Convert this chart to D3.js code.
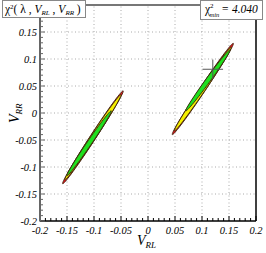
<!DOCTYPE html>
<html>
<head>
<meta charset="utf-8">
<script src="https://cdn.jsdelivr.net/npm/d3@7"></script>
<style>
  body { margin: 0; background: #fff; }
  svg { display: block; }
  text { font-family: "Liberation Serif", "DejaVu Serif", serif; }
</style>
</head>
<body>
<div id="chart"></div>
<script>
(() => {
  // axis ticks
  const xTicks = [-0.2, -0.15, -0.1, -0.05, 0, 0.05, 0.1, 0.15, 0.2];
  const yTicks = [-0.2, -0.15, -0.1, -0.05, 0, 0.05, 0.1, 0.15];
  const tickLabels = ["-0.2", "-0.15", "-0.1", "-0.05", "0", "0.05", "0.1", "0.15", "0.2"];

  // contour regions: tips of the major axis (V_RL, V_RR) and half width
  const contourLevels = ["red", "yellow", "green"];
  const contourFill = { red: "#e8141c", yellow: "#f5f000", green: "#1ee01e" };
  const leftContours = [
    { level: "red",    p1: [-0.158, -0.131], p2: [-0.046, 0.041], w: 0.0053 },
    { level: "yellow", p1: [-0.154, -0.124], p2: [-0.050, 0.034], w: 0.0049 },
    { level: "green",  p1: [-0.150, -0.116], p2: [-0.068, 0.004], w: 0.0042 },
  ];
  const rightContours = [
    { level: "red",    p1: [0.045, -0.040], p2: [0.158, 0.129], w: 0.0053 },
    { level: "yellow", p1: [0.049, -0.033], p2: [0.154, 0.122], w: 0.0049 },
    { level: "green",  p1: [0.070, 0.004],  p2: [0.152, 0.117], w: 0.0042 },
  ];
  // best fit marker
  const bestFit = { x: 0.120, y: 0.081, dx: 0.019, dy: 0.018 };
  const chiMin = "4.040";

  const width = 266, height = 253;
  const margin = { top: 5, right: 10, bottom: 32, left: 40 };
  const innerW = width - margin.left - margin.right;
  const innerH = height - margin.top - margin.bottom;

  const svg = d3.select("#chart").append("svg")
    .attr("width", width).attr("height", height);

  const x = d3.scaleLinear().domain([-0.2, 0.2]).range([margin.left, margin.left + innerW]);
  const y = d3.scaleLinear().domain([-0.2, 0.2]).range([margin.top + innerH, margin.top]);

  // grid
  const grid = svg.append("g").attr("stroke", "#aaa").attr("stroke-width", 1)
    .attr("stroke-dasharray", "1,2.5");
  grid.selectAll(".gx").data(xTicks.slice(1, -1)).enter().append("line")
    .attr("x1", d => x(d)).attr("x2", d => x(d))
    .attr("y1", y(-0.2)).attr("y2", y(0.2));
  grid.selectAll(".gy").data(yTicks.slice(1)).enter().append("line")
    .attr("y1", d => y(d)).attr("y2", d => y(d))
    .attr("x1", x(-0.2)).attr("x2", x(0.2));

  // contours
  const ellipse = (c) => {
    const [x1, y1] = c.p1, [x2, y2] = c.p2;
    const cx = (x1 + x2) / 2, cy = (y1 + y2) / 2;
    const ux = (x2 - x1) / 2, uy = (y2 - y1) / 2;
    const len = Math.hypot(ux, uy);
    const nx = -uy / len * c.w, ny = ux / len * c.w;
    return d3.range(0, 73).map(i => {
      const t = i / 72 * 2 * Math.PI;
      return [cx + ux * Math.cos(t) + nx * Math.sin(t), cy + uy * Math.cos(t) + ny * Math.sin(t)];
    });
  };
  const line = d3.line().x(d => x(d[0])).y(d => y(d[1])).curve(d3.curveLinearClosed);

  const cg = svg.append("g");
  [leftContours, rightContours].forEach(set => {
    contourLevels.forEach(lv => {
      set.filter(c => c.level === lv).forEach(c => {
        cg.append("path")
          .attr("d", line(ellipse(c)))
          .attr("fill", contourFill[lv])
          .attr("stroke", "#3a2410")
          .attr("stroke-width", 0.9);
      });
    });
  });

  // best fit cross
  const cross = svg.append("g").attr("stroke", "#555").attr("stroke-width", 1);
  cross.append("line")
    .attr("x1", x(bestFit.x - bestFit.dx)).attr("x2", x(bestFit.x + bestFit.dx))
    .attr("y1", y(bestFit.y)).attr("y2", y(bestFit.y));
  cross.append("line")
    .attr("x1", x(bestFit.x)).attr("x2", x(bestFit.x))
    .attr("y1", y(bestFit.y - bestFit.dy)).attr("y2", y(bestFit.y + bestFit.dy));

  // frame
  svg.append("line").attr("x1", x(-0.2)).attr("x2", x(0.2)).attr("y1", y(0.2)).attr("y2", y(0.2))
    .attr("stroke", "#777").attr("stroke-width", 2);
  svg.append("line").attr("x1", x(0.2)).attr("x2", x(0.2)).attr("y1", y(0.2)).attr("y2", y(-0.2))
    .attr("stroke", "#000").attr("stroke-width", 1.5);

  // bottom axis
  const minor = d3.range(-20, 21).map(i => i / 100);
  const xAxis = svg.append("g").attr("transform", `translate(0,${y(-0.2)})`);
  xAxis.selectAll("line.t").data(minor).enter().append("line")
    .attr("x1", d => x(d)).attr("x2", d => x(d))
    .attr("y1", 0).attr("y2", d => (Math.round(d * 100) % 5 === 0 ? -5 : -3))
    .attr("stroke", "#000").attr("stroke-width", 1);
  xAxis.append("line").attr("x1", x(-0.2)).attr("x2", x(0.2))
    .attr("stroke", "#000").attr("stroke-width", 1.5);
  xAxis.selectAll("text").data(xTicks).enter().append("text")
    .attr("x", d => x(d)).attr("y", 13)
    .attr("text-anchor", "middle")
    .attr("font-size", 10.5).attr("font-style", "italic")
    .text((d, i) => tickLabels[i]);

  // left axis
  const yAxis = svg.append("g").attr("transform", `translate(${x(-0.2)},0)`);
  yAxis.selectAll("line.t").data(minor).enter().append("line")
    .attr("y1", d => y(d)).attr("y2", d => y(d))
    .attr("x1", -1).attr("x2", d => (Math.round(d * 100) % 5 === 0 ? 5 : 3))
    .attr("stroke", "#666").attr("stroke-width", 1);
  yAxis.append("line").attr("y1", y(0.2)).attr("y2", y(-0.2))
    .attr("stroke", "#666").attr("stroke-width", 2);
  yAxis.selectAll("text").data(yTicks).enter().append("text")
    .attr("x", -3).attr("y", d => y(d) + 3.5)
    .attr("text-anchor", "end")
    .attr("font-size", 10.5).attr("font-style", "italic")
    .text((d, i) => tickLabels[i]);

  // axis titles
  const xt = svg.append("text").attr("x", 137).attr("y", 245).attr("font-size", 14).attr("font-style", "italic");
  xt.append("tspan").text("V");
  xt.append("tspan").attr("font-size", 9).attr("dy", 3).text("RL");

  const yt = svg.append("text")
    .attr("transform", `translate(19,${y(0) + 10}) rotate(-90)`)
    .attr("font-size", 14).attr("font-style", "italic");
  yt.append("tspan").text("V");
  yt.append("tspan").attr("font-size", 9).attr("dy", 3).text("RR");

  // header boxes
  svg.append("rect").attr("x", 2.5).attr("y", 0.5).attr("width", 83).attr("height", 17)
    .attr("fill", "#fff").attr("stroke", "#888").attr("stroke-width", 1);
  const lt = svg.append("text").attr("x", 5).attr("y", 13).attr("font-size", 11.5);
  lt.append("tspan").text("\u03c7");
  lt.append("tspan").attr("font-size", 7).attr("dy", -4).text("2");
  lt.append("tspan").attr("dy", 4).text("( \u03bb , ");
  lt.append("tspan").attr("font-style", "italic").text("V");
  lt.append("tspan").attr("font-size", 7).attr("dy", 2).attr("font-style", "italic").text("RL");
  lt.append("tspan").attr("dy", -2).text(" , ");
  lt.append("tspan").attr("font-style", "italic").text("V");
  lt.append("tspan").attr("font-size", 7).attr("dy", 2).attr("font-style", "italic").text("RR");
  lt.append("tspan").attr("dy", -2).text(" )");

  svg.append("rect").attr("x", 200.5).attr("y", 0.5).attr("width", 62).attr("height", 19)
    .attr("fill", "#fff").attr("stroke", "#888").attr("stroke-width", 1);
  const rt = svg.append("text").attr("x", 205).attr("y", 13).attr("font-size", 11.5);
  rt.append("tspan").text("\u03c7");
  rt.append("tspan").attr("font-size", 7).attr("dx", 0).attr("dy", -5).text("2");
  rt.append("tspan").attr("font-size", 6.5).attr("font-style", "italic").attr("dx", -4).attr("dy", 9).text("min");
  rt.append("tspan").attr("font-style", "italic").attr("dx", 2).attr("dy", -4).text("= " + chiMin);
})();
</script>
</body>
</html>
